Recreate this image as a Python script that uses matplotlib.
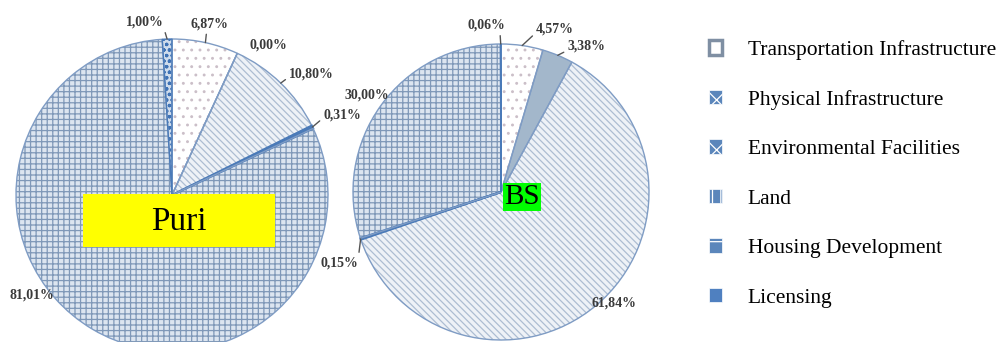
import numpy as np
import matplotlib.pyplot as plt
from matplotlib.patches import Patch, Rectangle

plt.rcParams['hatch.linewidth'] = 0.9

# data (percent shares, clockwise from 12 o'clock)
categories = ['Transportation Infrastructure', 'Physical Infrastructure', 'Environmental Facilities',
              'Land', 'Housing Development', 'Licensing']
puri_values = [6.87, 0.00, 10.80, 0.31, 81.01, 1.00]
bs_values = [4.57, 3.38, 61.84, 0.15, 30.00, 0.06]

# styles per category
faces = ['white', '#a3b7cb', '#eef2f7', '#4a7ab8', '#dce5f0', '#cfdcec']
hatches = ['..', None, '\\\\\\\\\\', None, '+++', 'ooo']
hatch_colors = ['#cbbfc8', '#a3b7cb', '#adbdd2', '#4a7ab8', '#7f98b8', '#3f72b5']
legend_faces = ['white', '#5b86bb', '#5b86bb', '#5b86bb', '#5b86bb', '#4f80c0']
legend_hatches = [None, 'xx', 'x', '||', '+', None]

# label offsets from the wedge edge (pixels, y down) and leader attach point on the text
puri_layout = [(4, -19, (0.43, 0)), (31, -8, None), (31, -9, (0, 0.3)),
               (30, -12, (0, 0.3)), (-61, -34, None), (-22, -17, (1, 0))]
bs_layout = [(33, -17, (0, 0.2)), (29, -9, (0, 0.2)), (18, -2, None),
             (-21, 24, (1, 1)), (-14, -10, None), (-14, -19, (0.85, 0))]


def fmt(v):
    return f'{v:.2f}%'.replace('.', ',')


def draw_pie(ax, values, layout):
    wedges, _ = ax.pie(values, colors=faces, startangle=90, counterclock=False, radius=1,
                       wedgeprops=dict(linewidth=0))
    for w, h, hc in zip(wedges, hatches, hatch_colors):
        w.set_edgecolor(hc)
        w.set_hatch(h)
    outline, _ = ax.pie(values, startangle=90, counterclock=False, radius=1,
                        wedgeprops=dict(fill=False, edgecolor='#7f9cc4', linewidth=1.0))
    outline[3].set_edgecolor('#4a7ab8')
    outline[3].set_linewidth(1.6)
    outline[5].set_edgecolor('#4a7ab8')

    for w, v, (dx, dy, rel) in zip(wedges, values, layout):
        ang = np.deg2rad((w.theta1 + w.theta2) / 2)
        xy = (np.cos(ang), np.sin(ang))
        arrow = None
        if rel is not None:
            arrow = dict(arrowstyle='-', color='#555555', lw=1.0, relpos=rel, shrinkA=1, shrinkB=0)
        ax.annotate(fmt(v), xy=xy, xytext=(dx * 0.72, -dy * 0.72), textcoords='offset points',
                    ha='center', va='center', fontsize=10, fontweight='bold',
                    family='Liberation Serif', color='#3a3a3a', arrowprops=arrow)
    ax.set_xlim(-1, 1)
    ax.set_ylim(-1, 1)
    ax.axis('off')
    return wedges


fig = plt.figure(figsize=(9.98, 3.42), dpi=100)

ax1 = fig.add_axes([16 / 998, -9 / 342, 312 / 998, 312 / 342])
draw_pie(ax1, puri_values, puri_layout)
ax1.add_patch(Rectangle((-0.571, -0.333), 1.231, 0.339, facecolor='#ffff00', edgecolor='none', zorder=5))
ax1.text(0.045, -0.17, 'Puri', ha='center', va='center', fontsize=24,
         family='Liberation Serif', zorder=6)

ax2 = fig.add_axes([353 / 998, 2 / 342, 296 / 998, 296 / 342])
draw_pie(ax2, bs_values, bs_layout)
ax2.text(0.142, -0.034, 'BS', ha='center', va='center', fontsize=21, family='Liberation Serif',
         zorder=6, bbox=dict(boxstyle='square,pad=0.05', facecolor='#00ff00', edgecolor='none'))

handles = []
for i, (fc, h) in enumerate(zip(legend_faces, legend_hatches)):
    if i == 0:
        handles.append(Patch(facecolor='white', edgecolor='#7f8fa3', linewidth=2.5))
    else:
        handles.append(Patch(facecolor=fc, edgecolor='white', hatch=h, linewidth=0.5))

fig.legend(handles, categories, loc='upper left', bbox_to_anchor=(709 / 998, 1 - 40 / 342),
           frameon=False, prop={'family': 'Liberation Serif', 'size': 15.5},
           handlelength=0.62, handleheight=0.66, handletextpad=1.18, labelspacing=1.38,
           borderpad=0, borderaxespad=0)

fig.savefig('out.png', dpi=100)
